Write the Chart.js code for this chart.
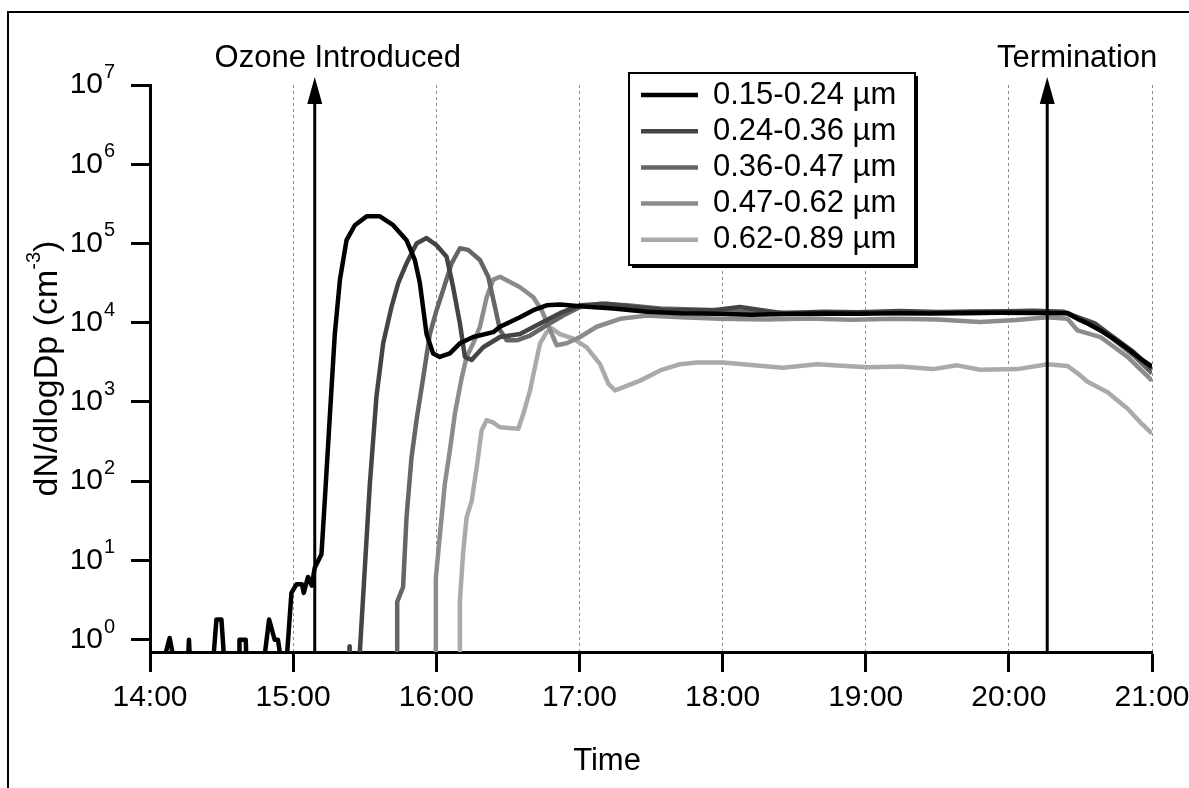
<!DOCTYPE html>
<html>
<head>
<meta charset="utf-8">
<script src="https://cdn.jsdelivr.net/npm/chart.js@4.4.0/dist/chart.umd.min.js"></script>
<style>
  html, body { margin: 0; padding: 0; background: #fff; }
</style>
</head>
<body>
<canvas id="sizeChart" width="1189" height="788"></canvas>
<script>
// time in decimal hours, values in dN/dlogDp (cm-3); 0.5 = below detection (under axis)
const times1 = [14.00, 14.09, 14.137, 14.172, 14.265, 14.272, 14.28, 14.44, 14.464, 14.499,
  14.52, 14.622, 14.625, 14.669, 14.674, 14.794, 14.832, 14.871, 14.894, 14.918,
  14.953, 14.988, 15.023, 15.062, 15.074, 15.104, 15.13, 15.151, 15.198, 15.221,
  15.256, 15.291, 15.327, 15.373, 15.431, 15.513, 15.606, 15.699, 15.792, 15.85,
  15.885, 15.932, 15.978, 16.025, 16.095, 16.165, 16.258, 16.398, 16.445, 16.585,
  16.678, 16.771, 16.864, 17.004, 17.237, 17.471, 17.704, 17.95, 18.2, 18.45,
  18.7, 18.95, 19.2, 19.45, 19.7, 19.95, 20.2, 20.41, 20.48, 20.55,
  20.64, 20.73, 20.83, 20.92, 21.0];
const vals1 = [0.5, 0.5, 1.05, 0.5, 0.5, 1.0, 0.5, 0.5, 1.8, 1.8,
  0.5, 0.5, 1.0, 1.0, 0.5, 0.5, 1.8, 1.0, 1.0, 0.5,
  0.5, 3.9, 5.0, 5.0, 3.9, 6.2, 4.8, 8.1, 12, 57,
  650, 7200, 35000, 110000, 170000, 220000, 220000, 170000, 110000, 62000,
  32000, 7200, 4100, 3700, 4100, 5500, 6600, 7600, 8900, 11700,
  14400, 16600, 17000, 16200, 15100, 13800, 13200, 13000, 12600, 12900,
  13100, 13000, 13200, 13100, 13300, 13400, 13300, 13200, 11200, 9800,
  8000, 6300, 4700, 3500, 2800];

const times2 = [15.393, 15.395, 15.43, 15.461, 15.501, 15.536, 15.582, 15.629, 15.687, 15.734,
  15.792, 15.862, 15.932, 16.002, 16.072, 16.118, 16.165, 16.2, 16.247, 16.328,
  16.445, 16.585, 16.725, 16.864, 17.004, 17.191, 17.377, 17.61, 17.937, 18.12,
  18.42, 18.7, 18.95, 19.24, 19.5, 19.75, 20.0, 20.17, 20.38, 20.48,
  20.6, 20.73, 20.87, 21.0];
const vals2 = [0.83, 0.5, null, 0.5, 8.1, 93, 1170, 5500, 15800, 31600,
  56000, 100000, 117000, 95000, 68000, 28000, 9800, 3700, 3400, 4900,
  6600, 7200, 9800, 13200, 16600, 17400, 15800, 14400, 14400, 15800,
  13200, 13800, 13600, 14100, 13700, 13900, 14000, 14200, 13800, 11800,
  9800, 6600, 4300, 2600];

const times3 = [15.727, 15.727, 15.768, 15.792, 15.827, 15.862, 15.908, 15.955, 16.002, 16.048,
  16.107, 16.165, 16.223, 16.305, 16.363, 16.41, 16.445, 16.492, 16.562, 16.655,
  16.771, 16.887, 17.004, 17.144, 17.331, 17.564, 17.983, 18.2, 18.45, 18.7,
  18.95, 19.2, 19.45, 19.7, 19.95, 20.2, 20.41, 20.48, 20.6, 20.73,
  20.87, 21.0];
const vals3 = [0.5, 3.0, 4.6, 35, 200, 590, 2000, 7200, 14400, 26000,
  56000, 87000, 83000, 62000, 38000, 15800, 8100, 6000, 6000, 6900,
  9300, 12300, 15800, 17400, 16600, 15100, 14400, 13600, 13400, 13200,
  13500, 13300, 13400, 13200, 13500, 13400, 13300, 11500, 9200, 6200,
  3900, 2300];

const times4 = [15.997, 15.997, 16.025, 16.06, 16.095, 16.13, 16.177, 16.212, 16.258, 16.305,
  16.352, 16.398, 16.445, 16.585, 16.678, 16.736, 16.795, 16.841, 16.911, 17.004,
  17.121, 17.284, 17.471, 17.704, 17.983, 18.3, 18.6, 18.9, 19.2, 19.5,
  19.8, 20.05, 20.27, 20.41, 20.48, 20.64, 20.83, 21.0];
const vals4 = [0.5, 6.0, 21, 93, 245, 710, 2000, 3700, 5500, 8900,
  21000, 35000, 38000, 28000, 21000, 14400, 8100, 5200, 5500, 6600,
  8900, 11200, 12300, 11700, 11200, 11000, 11300, 10900, 11200, 11000,
  10200, 10800, 11700, 11200, 8000, 6600, 3700, 1860];

const times5 = [16.165, 16.165, 16.188, 16.212, 16.247, 16.282, 16.317, 16.352, 16.398, 16.445,
  16.573, 16.608, 16.655, 16.69, 16.725, 16.771, 16.806, 16.864, 16.957, 17.051,
  17.144, 17.202, 17.249, 17.331, 17.424, 17.564, 17.704, 17.82, 18.0, 18.42,
  18.66, 19.01, 19.24, 19.47, 19.64, 19.8, 20.06, 20.27, 20.41, 20.48,
  20.55, 20.69, 20.83, 20.92, 21.0];
const vals5 = [0.5, 3.1, 13, 35, 56, 148, 440, 590, 550, 480,
  460, 710, 1400, 2800, 5500, 7600, 8500, 7200, 6300, 4900,
  3000, 1700, 1400, 1600, 1860, 2500, 3000, 3150, 3150, 2700,
  3000, 2750, 2800, 2600, 2900, 2550, 2600, 3000, 2850, 2300,
  1800, 1330, 820, 550, 400];

const sizeLabels = ["0.15-0.24 µm", "0.24-0.36 µm", "0.36-0.47 µm", "0.47-0.62 µm", "0.62-0.89 µm"];
const lineColors = ["#000000", "#444444", "#666666", "#8c8c8c", "#aaaaaa"];
const yTickValues = [1, 10, 100, 1000, 10000, 100000, 1000000, 10000000];
const eventTimes = [15.151, 20.268];
const eventLabels = ["Ozone Introduced", "Termination"];

const FONT = '"Liberation Sans", Arial, Helvetica, sans-serif';
Chart.defaults.font.family = FONT;
Chart.defaults.color = "#000";

function toPoints(ts, vs) {
  return ts.map(function (t, i) { return { x: t, y: vs[i] }; });
}
const seriesTimes = [times1, times2, times3, times4, times5];
const seriesVals = [vals1, vals2, vals3, vals4, vals5];

const decorations = {
  id: "decorations",
  beforeDraw: function (chart) {
    const ctx = chart.ctx;
    ctx.save();
    ctx.fillStyle = "#fff";
    ctx.fillRect(0, 0, chart.width, chart.height);
    ctx.strokeStyle = "#000";
    ctx.lineWidth = 2;
    ctx.strokeRect(8, 12, chart.width + 20, chart.height + 20);
    ctx.restore();
  },
  afterDatasetsDraw: function (chart) {
    const ctx = chart.ctx;
    const xs = chart.scales.x;
    const area = chart.chartArea;
    const textDx = [23, 30];
    ctx.save();
    eventTimes.forEach(function (t, i) {
      const px = xs.getPixelForValue(t);
      const tip = area.top - 8;
      ctx.strokeStyle = "#000";
      ctx.lineWidth = 3;
      ctx.beginPath();
      ctx.moveTo(px, area.bottom + 2);
      ctx.lineTo(px, tip + 20);
      ctx.stroke();
      ctx.fillStyle = "#000";
      ctx.beginPath();
      ctx.moveTo(px, tip);
      ctx.lineTo(px - 7.5, tip + 27);
      ctx.lineTo(px + 7.5, tip + 27);
      ctx.closePath();
      ctx.fill();
      ctx.font = "31px " + FONT;
      ctx.textAlign = "center";
      ctx.textBaseline = "alphabetic";
      ctx.fillText(eventLabels[i], px + textDx[i], 66.5);
    });
    ctx.restore();
  },
  afterDraw: function (chart) {
    const ctx = chart.ctx;
    const ys = chart.scales.y;
    const area = chart.chartArea;
    ctx.save();
    ctx.fillStyle = "#000";

    // y tick labels 10^n
    ys.ticks.forEach(function (tk) {
      const py = ys.getPixelForValue(tk.value);
      const exp = Math.round(Math.log10(tk.value));
      ctx.font = "30px " + FONT;
      ctx.textAlign = "right";
      ctx.textBaseline = "middle";
      ctx.fillText("10", 103, py);
      ctx.font = "20px " + FONT;
      ctx.textAlign = "left";
      ctx.textBaseline = "alphabetic";
      ctx.fillText(String(exp), 104, py - 7);
    });

    // y title with superscript
    ctx.save();
    ctx.translate(57, (area.top + area.bottom) / 2);
    ctx.rotate(-Math.PI / 2);
    ctx.textAlign = "left";
    ctx.textBaseline = "alphabetic";
    ctx.font = "34px " + FONT;
    const main = "dN/dlogDp (cm", tail = ")";
    const wMain = ctx.measureText(main).width;
    const wTail = ctx.measureText(tail).width;
    ctx.font = "20px " + FONT;
    const wSup = ctx.measureText("-3").width;
    let x0 = -(wMain + wSup + wTail) / 2;
    ctx.font = "34px " + FONT;
    ctx.fillText(main, x0, 0);
    x0 += wMain;
    ctx.font = "20px " + FONT;
    ctx.fillText("-3", x0, -17);
    x0 += wSup;
    ctx.font = "34px " + FONT;
    ctx.fillText(tail, x0, 0);
    ctx.restore();

    // x title
    ctx.font = "31px " + FONT;
    ctx.textAlign = "center";
    ctx.textBaseline = "alphabetic";
    ctx.fillText("Time", 607, 770);

    // legend box with shadow
    const lx = 629, ly = 73, lw = 286, lh = 192;
    ctx.fillStyle = "#000";
    ctx.fillRect(lx + 3, ly + 3, lw, lh);
    ctx.fillStyle = "#fff";
    ctx.fillRect(lx, ly, lw, lh);
    ctx.strokeStyle = "#000";
    ctx.lineWidth = 2;
    ctx.strokeRect(lx, ly, lw, lh);
    chart.data.datasets.forEach(function (ds, i) {
      const ry = 95 + i * 36.2;
      ctx.strokeStyle = ds.borderColor;
      ctx.lineWidth = 4.5;
      ctx.beginPath();
      ctx.moveTo(641, ry);
      ctx.lineTo(698, ry);
      ctx.stroke();
      ctx.fillStyle = "#000";
      ctx.font = "31px " + FONT;
      ctx.textAlign = "left";
      ctx.textBaseline = "middle";
      ctx.fillText(ds.label, 713, ry);
    });
    ctx.restore();
  }
};

const ctx = document.getElementById("sizeChart").getContext("2d");
const sizeChart = new Chart(ctx, {
  type: "line",
  data: {
    datasets: sizeLabels.map(function (lab, i) {
      return {
        label: lab,
        data: toPoints(seriesTimes[i], seriesVals[i]),
        borderColor: lineColors[i],
        backgroundColor: lineColors[i],
        borderWidth: 4.5,
        pointRadius: 0,
        tension: 0,
        fill: false,
        spanGaps: false,
        borderJoinStyle: "round"
      };
    })
  },
  options: {
    responsive: false,
    animation: false,
    events: [],
    layout: { padding: { left: 0, top: 85, right: 37, bottom: 0 } },
    plugins: {
      legend: { display: false },
      tooltip: { enabled: false },
      title: { display: false }
    },
    scales: {
      x: {
        type: "linear",
        min: 14,
        max: 21,
        bounds: "data",
        ticks: {
          stepSize: 1,
          autoSkip: false,
          maxRotation: 0,
          padding: 8,
          color: "#000",
          font: { size: 30 },
          callback: function (v) { return v + ":00"; }
        },
        grid: {
          color: function (c) { return c.tick && c.tick.value === 14 ? "rgba(0,0,0,0)" : "#8c8c8c"; },
          lineWidth: 1,
          drawTicks: true,
          tickLength: 20,
          tickColor: "#000",
          tickWidth: 3,
          tickBorderDash: []
        },
        border: { display: true, color: "#000", width: 3, dash: [3, 3] },
        afterFit: function (s) {
          s.height = 136;
          s.paddingLeft = 0;
          s.paddingRight = 0;
        }
      },
      y: {
        type: "logarithmic",
        min: 0.7,
        max: 10000000,
        bounds: "data",
        afterBuildTicks: function (s) {
          s.ticks = yTickValues.map(function (v) { return { value: v }; });
        },
        ticks: { display: false },
        grid: {
          drawOnChartArea: false,
          drawTicks: true,
          tickLength: 19,
          tickColor: "#000",
          tickWidth: 3
        },
        border: { display: true, color: "#000", width: 3 },
        afterFit: function (s) { s.width = 150; }
      }
    }
  },
  plugins: [decorations]
});
</script>
</body>
</html>
